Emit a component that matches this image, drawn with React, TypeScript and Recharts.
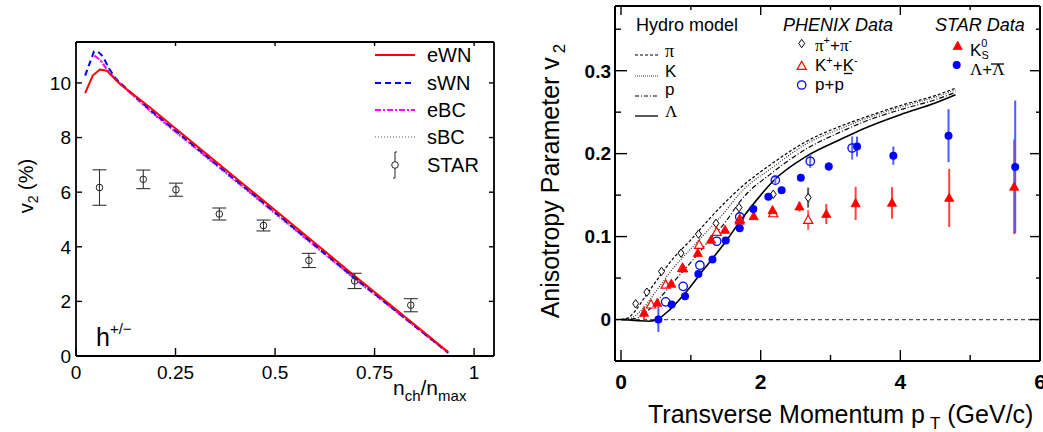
import React from "react";
import {
  ComposedChart,
  ErrorBar,
  Line,
  ReferenceLine,
  Scatter,
  XAxis,
  YAxis,
} from "recharts";

const FONT = "'Liberation Sans', Arial, Helvetica, sans-serif";
const SERIF = "'Liberation Serif', 'Times New Roman', serif";

// ---------- left panel: v2 (%) vs n_ch/n_max ----------
const fracTicks = [0, 0.25, 0.5, 0.75, 1];
const fracLabels = ["0", "0.25", "0.5", "0.75", "1"];
const v2Ticks = [0, 2, 4, 6, 8, 10];

const eWNx = [0.023, 0.042, 0.06, 0.077, 0.109, 0.186, 0.445, 0.688, 0.935];
const eWNy = [9.63, 10.27, 10.49, 10.45, 9.98, 9.1, 6.0, 3.08, 0.15];

const sWNx = [0.023, 0.045, 0.055, 0.067, 0.084, 0.1, 0.186, 0.445, 0.688, 0.935];
const sWNy = [10.27, 11.15, 11.15, 10.98, 10.51, 10.15, 9.02, 5.92, 3.0, 0.12];

const eBCx = [0.046, 0.06, 0.08, 0.1, 0.186, 0.445, 0.688, 0.935];
const eBCy = [11.0, 10.85, 10.45, 10.12, 8.98, 5.9, 2.98, 0.12];

const sBCx = [0.06, 0.08, 0.1, 0.186, 0.445, 0.688, 0.935];
const sBCy = [10.85, 10.6, 10.1, 8.95, 5.85, 2.95, 0.1];

const starX = [0.059, 0.169, 0.251, 0.36, 0.471, 0.585, 0.7, 0.841];
const starY = [6.17, 6.47, 6.09, 5.2, 4.78, 3.5, 2.75, 1.86];
const starErr = [0.65, 0.34, 0.24, 0.22, 0.2, 0.26, 0.28, 0.24];

// ---------- right panel: v2 vs pT ----------
const ptMajor = [0, 2, 4, 6];
const ptAll = [0, 1, 2, 3, 4, 5, 6];
const vMajor = [0, 0.1, 0.2, 0.3];
const vAll = [0, 0.05, 0.1, 0.15, 0.2, 0.25, 0.3, 0.35];

// hydro curves
const piHx = [0, 0.1, 0.2, 0.35, 0.535, 0.75, 1.0, 1.25, 1.5, 1.7, 2.18, 2.66, 3.14, 3.5, 4.0, 4.5, 4.79];
const piHy = [0, 0.002, 0.01, 0.028, 0.05, 0.074, 0.096, 0.12, 0.142, 0.158, 0.189, 0.215, 0.233, 0.244, 0.258, 0.27, 0.279];
const kHx = [0, 0.15, 0.3, 0.535, 0.75, 1.01, 1.25, 1.5, 1.7, 2.18, 2.66, 3.14, 3.5, 4.0, 4.5, 4.79];
const kHy = [0, 0.002, 0.012, 0.038, 0.062, 0.086, 0.108, 0.131, 0.152, 0.184, 0.212, 0.23, 0.242, 0.256, 0.268, 0.277];
const pHx = [0, 0.2, 0.35, 0.535, 0.75, 1.01, 1.25, 1.5, 1.7, 2.18, 2.66, 3.14, 3.5, 4.0, 4.5, 4.79];
const pHy = [0, 0.001, 0.008, 0.024, 0.045, 0.07, 0.094, 0.118, 0.142, 0.178, 0.206, 0.226, 0.239, 0.253, 0.265, 0.274];
const lamHx = [0, 0.2, 0.4, 0.535, 0.7, 0.92, 1.2, 1.5, 1.7, 2.0, 2.18, 2.66, 3.14, 3.5, 4.0, 4.5, 4.79];
const lamHy = [0, -0.001, -0.002, 0.001, 0.012, 0.032, 0.062, 0.094, 0.118, 0.15, 0.167, 0.197, 0.217, 0.231, 0.247, 0.261, 0.271];

// PHENIX pi+ + pi-
const phPiX = [0.21, 0.37, 0.58, 0.86, 1.11, 1.36, 1.69, 2.18, 2.68];
const phPiY = [0.019, 0.033, 0.058, 0.08, 0.103, 0.116, 0.135, 0.151, 0.147];
const phPiE = [0, 0, 0, 0, 0, 0, 0.002, 0.004, 0.012];
// PHENIX K+ + K-
const phKX = [0.43, 0.64, 0.88, 1.12, 1.37, 1.7, 2.18, 2.68];
const phKY = [0.018, 0.042, 0.062, 0.09, 0.1056, 0.121, 0.128, 0.12];
const phKE = [0, 0, 0, 0, 0, 0.002, 0.004, 0.012];
// PHENIX p + pbar
const phPX = [0.64, 0.89, 1.13, 1.37, 1.7, 2.21, 2.71, 3.31];
const phPY = [0.0213, 0.04, 0.0655, 0.0944, 0.1237, 0.168, 0.1908, 0.2068];
const phPE = [0, 0, 0, 0, 0.002, 0.004, 0.008, 0.014];
// STAR K0s
const stKX = [0.33, 0.52, 0.72, 0.89, 1.1, 1.29, 1.49, 1.7, 1.9, 2.17, 2.555, 2.94, 3.36, 3.88, 4.7, 5.63];
const stKY = [0.008, 0.02, 0.043, 0.0614, 0.08, 0.096, 0.108, 0.119, 0.1245, 0.1317, 0.1362, 0.1272, 0.14, 0.1406, 0.1466, 0.16];
const stKE = [0.008, 0, 0, 0, 0, 0, 0, 0, 0.003, 0.004, 0.006, 0.012, 0.02, 0.019, 0.035, 0.057];
// STAR Lambda + Lambdabar
const stLX = [0.535, 0.726, 0.917, 1.108, 1.31, 1.5, 1.7, 1.895, 2.11, 2.3, 2.575, 2.975, 3.38, 3.9, 4.69, 5.645];
const stLY = [0.0, 0.018, 0.028, 0.055, 0.0723, 0.0952, 0.11, 0.1333, 0.148, 0.156, 0.171, 0.1845, 0.2085, 0.1976, 0.2217, 0.184];
const stLE = [0.015, 0.003, 0, 0, 0, 0, 0, 0, 0, 0, 0, 0.005, 0.012, 0.011, 0.032, 0.08];

const zip = (xs: number[], ys: number[], es?: number[]) =>
  xs.map((x, i) => ({ x, y: ys[i], err: es ? es[i] : 0 }));

type Side = "bottom" | "top" | "left" | "right";

// inward-pointing ticks, like ROOT / matlab frames
function makeTick(
  side: Side,
  major: number[],
  len: number,
  minorLen: number,
  opts: { labels?: (v: number) => string; size?: number; bold?: boolean; gap?: number } = {}
) {
  return (props: any) => {
    const { x, y, payload } = props;
    const v = payload.value;
    const isMajor = major.some((m) => Math.abs(m - v) < 1e-9);
    const L = isMajor ? len : minorLen;
    let x2 = x;
    let y2 = y;
    if (side === "bottom") y2 = y - L;
    if (side === "top") y2 = y + L;
    if (side === "left") x2 = x + L;
    if (side === "right") x2 = x - L;
    const size = opts.size ?? 19;
    const gap = opts.gap ?? 4;
    let label = null;
    if (opts.labels && isMajor) {
      const common = {
        fontSize: size,
        fontFamily: FONT,
        fontWeight: opts.bold ? 700 : 400,
        fill: "#000",
      };
      if (side === "bottom") {
        label = (
          <text x={x} y={y + gap} textAnchor="middle" {...common}>
            {opts.labels(v)}
          </text>
        );
      } else if (side === "left") {
        label = (
          <text x={x - gap} y={y + size * 0.36} textAnchor="end" {...common}>
            {opts.labels(v)}
          </text>
        );
      }
    }
    return (
      <g>
        <line x1={x} y1={y} x2={x2} y2={y2} stroke="#000" strokeWidth={1.4} />
        {label}
      </g>
    );
  };
}

const frame = { stroke: "#000", strokeWidth: 1.8 };

function LeftPanel() {
  const fracLabel = (v: number) => fracLabels[fracTicks.indexOf(v)] ?? String(v);
  return (
    <ComposedChart width={520} height={432} margin={{ top: 41, right: 25, bottom: 46, left: 46 }}>
      <XAxis
        xAxisId="b"
        dataKey="x"
        type="number"
        domain={[0, 1.05]}
        allowDataOverflow
        ticks={fracTicks}
        interval={0}
        height={30}
        tickSize={0}
        tickMargin={0}
        tickLine={false}
        axisLine={frame}
        tick={makeTick("bottom", fracTicks, 8, 4, { labels: fracLabel, gap: 22.5 })}
      />
      <XAxis
        xAxisId="t"
        orientation="top"
        dataKey="x"
        type="number"
        domain={[0, 1.05]}
        allowDataOverflow
        ticks={fracTicks}
        interval={0}
        height={1}
        tickSize={0}
        tickMargin={0}
        tickLine={false}
        axisLine={frame}
        tick={makeTick("top", fracTicks, 4, 4)}
      />
      <YAxis
        yAxisId="l"
        type="number"
        domain={[0, 11.5]}
        allowDataOverflow
        ticks={v2Ticks}
        interval={0}
        width={30}
        tickSize={0}
        tickMargin={0}
        tickLine={false}
        axisLine={frame}
        tick={makeTick("left", v2Ticks, 6, 3, { labels: (v) => String(v), gap: 5 })}
      />
      <YAxis
        yAxisId="r"
        orientation="right"
        type="number"
        domain={[0, 11.5]}
        allowDataOverflow
        ticks={v2Ticks}
        interval={0}
        width={1}
        tickSize={0}
        tickMargin={0}
        tickLine={false}
        axisLine={frame}
        tick={makeTick("right", v2Ticks, 5, 3)}
      />
      <Line xAxisId="b" yAxisId="l" data={zip(sBCx, sBCy)} dataKey="y" type="linear" stroke="#8c8c8c" strokeWidth={1.6} strokeDasharray="1 2" dot={false} isAnimationActive={false} />
      <Line xAxisId="b" yAxisId="l" data={zip(eBCx, eBCy)} dataKey="y" type="linear" stroke="#ff00ff" strokeWidth={2} strokeDasharray="6 2 2 2" dot={false} isAnimationActive={false} />
      <Line xAxisId="b" yAxisId="l" data={zip(sWNx, sWNy)} dataKey="y" type="linear" stroke="#0000ff" strokeWidth={2} strokeDasharray="6 4" dot={false} isAnimationActive={false} />
      <Line xAxisId="b" yAxisId="l" data={zip(eWNx, eWNy)} dataKey="y" type="linear" stroke="#ff0000" strokeWidth={2} dot={false} isAnimationActive={false} />
      <Scatter
        xAxisId="b"
        yAxisId="l"
        data={zip(starX, starY, starErr)}
        dataKey="y"
        isAnimationActive={false}
        shape={(p: any) => <circle cx={p.cx} cy={p.cy} r={3.3} fill="none" stroke="#222" strokeWidth={1} />}
      >
        <ErrorBar dataKey="err" direction="y" width={7} stroke="#333" strokeWidth={1.1} isAnimationActive={false} />
      </Scatter>
    </ComposedChart>
  );
}

const triPath = (cx: number, cy: number) =>
  `M${cx},${cy - 4.8} L${cx + 4.6},${cy + 3.4} L${cx - 4.6},${cy + 3.4} Z`;
const diamondPath = (cx: number, cy: number) =>
  `M${cx},${cy - 4.2} L${cx + 3},${cy} L${cx},${cy + 4.2} L${cx - 3},${cy} Z`;

function RightPanel() {
  return (
    <ComposedChart width={523} height={432} margin={{ top: 5, right: 2, bottom: 41, left: 55 }}>
      <XAxis
        xAxisId="b"
        dataKey="x"
        type="number"
        domain={[-0.086, 6.0]}
        allowDataOverflow
        ticks={ptAll}
        interval={0}
        height={30}
        tickSize={0}
        tickMargin={0}
        tickLine={false}
        axisLine={{ stroke: "#000", strokeWidth: 2 }}
        tick={makeTick("bottom", ptMajor, 11, 6, { labels: (v) => String(v), bold: true, size: 21, gap: 28 })}
      />
      <XAxis
        xAxisId="t"
        orientation="top"
        dataKey="x"
        type="number"
        domain={[-0.086, 6.0]}
        allowDataOverflow
        ticks={ptAll}
        interval={0}
        height={1}
        tickSize={0}
        tickMargin={0}
        tickLine={false}
        axisLine={{ stroke: "#000", strokeWidth: 2 }}
        tick={makeTick("top", ptMajor, 9, 4)}
      />
      <YAxis
        yAxisId="l"
        type="number"
        domain={[-0.05, 0.378]}
        allowDataOverflow
        ticks={vAll}
        interval={0}
        width={40}
        tickSize={0}
        tickMargin={0}
        tickLine={false}
        axisLine={{ stroke: "#000", strokeWidth: 2 }}
        tick={makeTick("left", vMajor, 12, 6, { labels: (v) => String(v), bold: true, size: 19, gap: 4 })}
      />
      <YAxis
        yAxisId="r"
        orientation="right"
        type="number"
        domain={[-0.05, 0.378]}
        allowDataOverflow
        ticks={vAll}
        interval={0}
        width={1}
        tickSize={0}
        tickMargin={0}
        tickLine={false}
        axisLine={{ stroke: "#000", strokeWidth: 2 }}
        tick={makeTick("right", vMajor, 10, 4)}
      />
      <ReferenceLine xAxisId="b" yAxisId="l" y={0} stroke="#555" strokeWidth={1.2} strokeDasharray="4 3" />
      <Line xAxisId="b" yAxisId="l" data={zip(piHx, piHy)} dataKey="y" type="monotone" stroke="#000" strokeWidth={1.2} strokeDasharray="3 2" dot={false} isAnimationActive={false} />
      <Line xAxisId="b" yAxisId="l" data={zip(kHx, kHy)} dataKey="y" type="monotone" stroke="#333" strokeWidth={1.2} strokeDasharray="1 1.5" dot={false} isAnimationActive={false} />
      <Line xAxisId="b" yAxisId="l" data={zip(pHx, pHy)} dataKey="y" type="monotone" stroke="#000" strokeWidth={1.2} strokeDasharray="5 2 1 2" dot={false} isAnimationActive={false} />
      <Line xAxisId="b" yAxisId="l" data={zip(lamHx, lamHy)} dataKey="y" type="monotone" stroke="#000" strokeWidth={1.6} dot={false} isAnimationActive={false} />
      <Scatter
        xAxisId="b"
        yAxisId="l"
        data={zip(phPiX, phPiY, phPiE)}
        dataKey="y"
        isAnimationActive={false}
        shape={(p: any) => <path d={diamondPath(p.cx, p.cy)} fill="#fff" stroke="#000" strokeWidth={1} />}
      >
        <ErrorBar dataKey="err" direction="y" width={0} stroke="#555" strokeWidth={2} isAnimationActive={false} />
      </Scatter>
      <Scatter
        xAxisId="b"
        yAxisId="l"
        data={zip(phKX, phKY, phKE)}
        dataKey="y"
        isAnimationActive={false}
        shape={(p: any) => <path d={triPath(p.cx, p.cy)} fill="#fff" stroke="#ff0000" strokeWidth={1.2} />}
      >
        <ErrorBar dataKey="err" direction="y" width={0} stroke="#ff6060" strokeWidth={2} isAnimationActive={false} />
      </Scatter>
      <Scatter
        xAxisId="b"
        yAxisId="l"
        data={zip(phPX, phPY, phPE)}
        dataKey="y"
        isAnimationActive={false}
        shape={(p: any) => <circle cx={p.cx} cy={p.cy} r={4.2} fill="none" stroke="#0000ff" strokeWidth={1.3} />}
      >
        <ErrorBar dataKey="err" direction="y" width={0} stroke="#6070ff" strokeWidth={2} isAnimationActive={false} />
      </Scatter>
      <Scatter
        xAxisId="b"
        yAxisId="l"
        data={zip(stKX, stKY, stKE)}
        dataKey="y"
        isAnimationActive={false}
        shape={(p: any) => <path d={triPath(p.cx, p.cy)} fill="#ff0000" stroke="#ff0000" strokeWidth={0.8} />}
      >
        <ErrorBar dataKey="err" direction="y" width={0} stroke="#ff4040" strokeWidth={2} isAnimationActive={false} />
      </Scatter>
      <Scatter
        xAxisId="b"
        yAxisId="l"
        data={zip(stLX, stLY, stLE)}
        dataKey="y"
        isAnimationActive={false}
        shape={(p: any) => <circle cx={p.cx} cy={p.cy} r={4} fill="#0000ff" />}
      >
        <ErrorBar dataKey="err" direction="y" width={0} stroke="#4a5cff" strokeWidth={2} isAnimationActive={false} />
      </Scatter>
    </ComposedChart>
  );
}

function Overlay() {
  const t = { fontFamily: FONT, fill: "#000" } as const;
  return (
    <svg width={1043} height={432} style={{ position: "absolute", left: 0, top: 0, pointerEvents: "none" }}>
      {/* left legend */}
      <line x1={375} y1={55} x2={415} y2={55} stroke="#ff0000" strokeWidth={2} />
      <line x1={375} y1={83} x2={415} y2={83} stroke="#0000ff" strokeWidth={2} strokeDasharray="6 4" />
      <line x1={375} y1={110} x2={415} y2={110} stroke="#ff00ff" strokeWidth={2} strokeDasharray="6 2 2 2" />
      <line x1={375} y1={137} x2={415} y2={137} stroke="#8c8c8c" strokeWidth={1.6} strokeDasharray="1 2" />
      <line x1={395} y1={152} x2={395} y2={178} stroke="#222" strokeWidth={1} />
      <line x1={395} y1={152} x2={397} y2={152} stroke="#222" strokeWidth={1} />
      <line x1={393} y1={178} x2={395} y2={178} stroke="#222" strokeWidth={1} />
      <circle cx={395} cy={165} r={3.3} fill="#fff" stroke="#222" strokeWidth={1} />
      <text x={427} y={62} fontSize={20} {...t}>eWN</text>
      <text x={427} y={90} fontSize={20} {...t}>sWN</text>
      <text x={427} y={117} fontSize={20} {...t}>eBC</text>
      <text x={427} y={144} fontSize={20} {...t}>sBC</text>
      <text x={427} y={172} fontSize={20} {...t}>STAR</text>

      {/* left labels */}
      <text x={96} y={346} fontSize={25} {...t}>
        h<tspan fontSize={15} dy={-12}>+/−</tspan>
      </text>
      <text x={33} y={186} fontSize={20} textAnchor="middle" transform="rotate(-90 33 186)" {...t}>
        v<tspan fontSize={14} dy={5}>2</tspan>
        <tspan dy={-5}> (%)</tspan>
      </text>
      <text x={393} y={395} fontSize={21} {...t}>
        n<tspan fontSize={15} dy={6}>ch</tspan>
        <tspan dy={-6}>/n</tspan>
        <tspan fontSize={15} dy={6}>max</tspan>
      </text>

      {/* right axis titles */}
      <text x={559} y={181} fontSize={25} textAnchor="middle" transform="rotate(-90 559 181)" {...t}>
        Anisotropy Parameter v<tspan fontSize={17} dx={4} dy={6}>2</tspan>
      </text>
      <text x={648} y={423} fontSize={25} {...t}>
        Transverse Momentum p<tspan fontSize={17} dx={5} dy={6}>T</tspan>
        <tspan dy={-6}> (GeV/c)</tspan>
      </text>

      {/* hydro legend */}
      <text x={636} y={31} fontSize={18} {...t}>Hydro model</text>
      <line x1={635} y1={55} x2={658} y2={55} stroke="#000" strokeWidth={1} strokeDasharray="3 2" />
      <line x1={635} y1={76} x2={658} y2={76} stroke="#333" strokeWidth={1} strokeDasharray="1 1" />
      <line x1={635} y1={96} x2={658} y2={96} stroke="#000" strokeWidth={1} strokeDasharray="4 2 1 2" />
      <line x1={635} y1={116} x2={658} y2={116} stroke="#000" strokeWidth={1.3} />
      <text x={665} y={57} fontSize={18} fontFamily={SERIF} fill="#000">π</text>
      <text x={665} y={77} fontSize={17} {...t}>K</text>
      <text x={665} y={95} fontSize={17} {...t}>p</text>
      <text x={665} y={117} fontSize={17} fontFamily={SERIF} fill="#000">Λ</text>

      {/* PHENIX legend */}
      <text x={783} y={31} fontSize={18} fontStyle="italic" {...t}>PHENIX Data</text>
      <path d={diamondPath(801.7, 43.5)} fill="#fff" stroke="#000" strokeWidth={1} />
      <text x={815} y={51} fontSize={17} {...t}>
        <tspan fontFamily={SERIF}>π</tspan>
        <tspan fontSize={11} dy={-7}>+</tspan>
        <tspan dy={7}>+</tspan>
        <tspan fontFamily={SERIF}>π</tspan>
        <tspan fontSize={11} dy={-7}>-</tspan>
      </text>
      <path d={triPath(801.7, 66)} fill="#fff" stroke="#ff0000" strokeWidth={1.2} />
      <text x={815} y={71} fontSize={17} {...t}>
        K<tspan fontSize={11} dy={-7}>+</tspan>
        <tspan dy={7}>+K</tspan>
        <tspan fontSize={11} dy={-7}>-</tspan>
      </text>
      <circle cx={801.7} cy={85} r={4.2} fill="none" stroke="#0000ff" strokeWidth={1.3} />
      <text x={815} y={90} fontSize={17} {...t}>p+p</text>
      <line x1={844} y1={73.5} x2={852} y2={73.5} stroke="#000" strokeWidth={1.3} />

      {/* STAR legend */}
      <text x={935} y={31} fontSize={18} fontStyle="italic" {...t}>STAR Data</text>
      <path d={triPath(957.7, 46)} fill="#ff0000" stroke="#ff0000" strokeWidth={0.8} />
      <text x={970} y={56} fontSize={17} {...t}>
        K<tspan fontSize={11} dy={-9}>0</tspan>
        <tspan fontSize={11} dx={-6} dy={12}>S</tspan>
      </text>
      <circle cx={956.7} cy={65} r={4} fill="#0000ff" />
      <text x={970} y={75} fontSize={17} {...t}>
        <tspan fontFamily={SERIF}>Λ</tspan>+<tspan fontFamily={SERIF}>Λ</tspan>
      </text>
      <line x1={991} y1={64} x2={1004} y2={64} stroke="#000" strokeWidth={1.3} />
    </svg>
  );
}

export default function App() {
  return (
    <div
      style={{
        position: "absolute",
        left: 0,
        top: 0,
        width: 1043,
        height: 432,
        background: "#fff",
        overflow: "hidden",
        fontFamily: FONT,
      }}
    >
      <div style={{ position: "absolute", left: 0, top: 0 }}>
        <LeftPanel />
      </div>
      <div style={{ position: "absolute", left: 520, top: 0 }}>
        <RightPanel />
      </div>
      <Overlay />
    </div>
  );
}
